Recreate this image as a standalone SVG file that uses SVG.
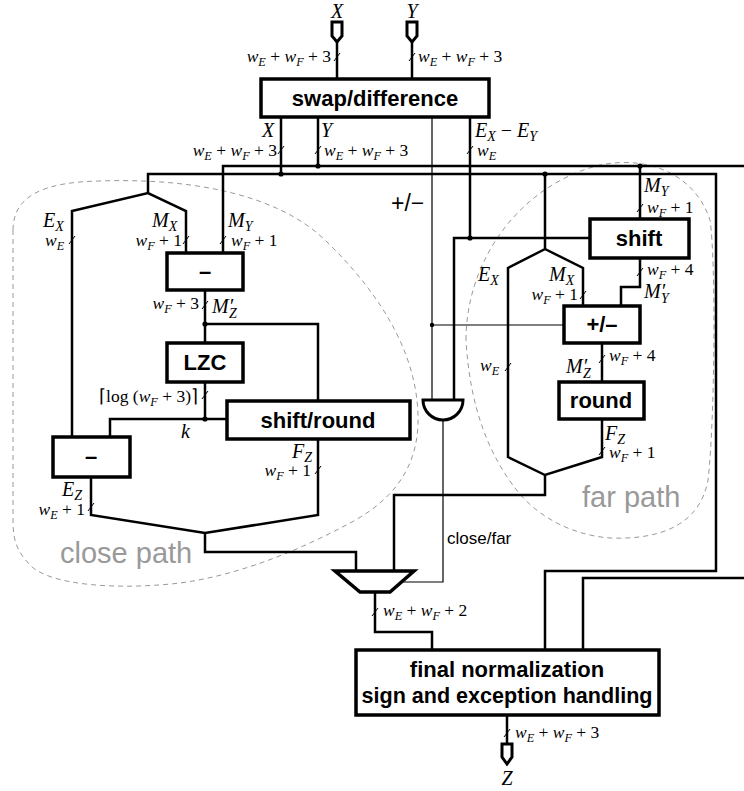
<svg xmlns="http://www.w3.org/2000/svg" width="744" height="791" viewBox="0 0 744 791">
<style>
.w{fill:none;stroke:#000;stroke-width:2.5;stroke-linejoin:miter}
.t{fill:none;stroke:#000;stroke-width:1.2}
.tk{fill:none;stroke:#000;stroke-width:1}
.box{fill:#fff;stroke:#000;stroke-width:3.5}
.dot{fill:#000}
.blob{fill:none;stroke:#999;stroke-width:1;stroke-dasharray:5 4}
.bl{font-family:"Liberation Sans",Arial,sans-serif;font-weight:bold;font-size:22px;text-anchor:middle}
.m{font-family:"Liberation Serif","Times New Roman",serif;font-style:italic;font-size:20px}
.s{font-family:"Liberation Serif","Times New Roman",serif;font-style:italic;font-size:17.5px}
.sub{font-size:0.7em}
.up{font-style:normal}
.e{text-anchor:end}
.c{text-anchor:middle}
.lab{font-family:"Liberation Sans",Arial,sans-serif;font-size:17px}
.pm{font-family:"Liberation Sans",Arial,sans-serif;font-size:23px}
.gray{font-family:"Liberation Sans",Arial,sans-serif;font-size:29px;fill:#999}
</style>

<g id="blobs">
<path class="blob" d="M13,230 C13,195 45,182 100,181 C185,178 275,192 325,240 C385,298 420,360 418,425 C416,470 392,500 352,522 C300,550 240,575 180,583 C120,590 50,586 30,565 C16,550 13,540 13,520 Z"/>
<path class="blob" d="M466,340 C466,260 520,185 600,165 C650,155 695,175 710,220 C716,260 715,420 708,480 C700,525 660,540 610,538 C570,535 535,515 515,488 C490,455 470,410 466,340 Z"/>
<text class="gray" x="60" y="563">close path</text>
<text class="gray" x="582" y="507">far path</text>
</g>

<g id="connectors">
<path class="w" d="M337,42 V79"/>
<path class="w" d="M412,42 V79"/>
<path class="w" d="M281,117 V174"/>
<path class="w" d="M318,117 V166"/>
<path class="w" d="M470,117 V238"/>
<path class="t" d="M432,117 V400"/>
<path class="t" d="M432,325 H564"/>
<path class="w" d="M223,253 V166 H744"/>
<path class="w" d="M148,193 V174 H716 V571 H545 V650"/>
<path class="w" d="M744,578 H583 V650"/>
<path class="w" d="M72,437 V211 L148,193 L186,211 V253"/>
<path class="w" d="M205,290 V343"/>
<path class="w" d="M205,324 H318 V401"/>
<path class="w" d="M205,382 V419"/>
<path class="w" d="M110,437 V419 H227"/>
<path class="w" d="M91,477 V515 L205,533 L318,515 V439"/>
<path class="w" d="M205,533 V552 H356 V572"/>
<path class="w" d="M454,400 V238 H590"/>
<path class="w" d="M545,174 V249 L508,268 V457 L545,475 L602,457 V419"/>
<path class="w" d="M545,249 L583,268 V306"/>
<path class="w" d="M640,166 V219"/>
<path class="w" d="M640,258 V287 H621 V306"/>
<path class="w" d="M602,343 V382"/>
<path class="w" d="M545,475 V495 H394 V572"/>
<path class="t" d="M443,420 V582 H402"/>
<path class="w" d="M375,592 V632 H432 V650"/>
<path class="w" d="M507,715 V744"/>
<circle class="dot" cx="281" cy="174" r="2.6"/>
<circle class="dot" cx="318" cy="166" r="2.6"/>
<circle class="dot" cx="545" cy="174" r="2.6"/>
<circle class="dot" cx="640" cy="166" r="2.6"/>
<circle class="dot" cx="470" cy="238" r="2.6"/>
<circle class="dot" cx="432" cy="325" r="2.2"/>
<circle class="dot" cx="205" cy="324" r="2.6"/>
<circle class="dot" cx="205" cy="419" r="2.6"/>
<path class="tk" d="M334,61 L340,53 M409,61 L415,53 M278,154 L284,146 M315,154 L321,146 M467,154 L473,146 M69,244 L75,236 M183,244 L189,236 M220,244 L226,236 M202,309 L208,301 M202,399 L208,391 M315,474 L321,466 M88,511 L94,503 M637,212 L643,204 M637,276 L643,268 M580,299 L586,291 M505,371 L511,363 M599,363 L605,355 M599,455 L605,447 M372,616 L378,608 M504,737 L510,729"/>
</g>

<g id="in-X"><path d="M332,22 H342 V36 L337,42 L332,36 Z" fill="#fff" stroke="#000" stroke-width="3"/><text class="m c" x="337" y="18">X</text></g>
<g id="in-Y"><path d="M407,22 H417 V36 L412,42 L407,36 Z" fill="#fff" stroke="#000" stroke-width="3"/><text class="m c" x="412" y="18">Y</text></g>
<g id="out-Z"><path d="M502,744 H512 V757 L507,764 L502,757 Z" fill="#fff" stroke="#000" stroke-width="3"/><text class="m c" x="507" y="785">Z</text></g>

<g id="swap"><rect class="box" x="261" y="79" width="228" height="38"/><text class="bl" x="375" y="106">swap/difference</text></g>
<g id="sub-mant"><rect class="box" x="167" y="253" width="76" height="37"/><text class="bl" x="205" y="279">–</text></g>
<g id="lzc"><rect class="box" x="167" y="343" width="76" height="39"/><text class="bl" x="205" y="370">LZC</text></g>
<g id="shiftround"><rect class="box" x="227" y="401" width="183" height="38"/><text class="bl" x="318" y="428">shift/round</text></g>
<g id="sub-exp"><rect class="box" x="53" y="437" width="77" height="40"/><text class="bl" x="91" y="464">–</text></g>
<g id="shift"><rect class="box" x="590" y="219" width="99" height="39"/><text class="bl" x="639" y="246">shift</text></g>
<g id="addsub"><rect class="box" x="564" y="306" width="76" height="37"/><text class="bl" x="602" y="332">+/–</text></g>
<g id="round"><rect class="box" x="559" y="382" width="85" height="37"/><text class="bl" x="601" y="408">round</text></g>
<g id="final"><rect class="box" x="356" y="650" width="303" height="65"/><text class="bl" x="507" y="677">final normalization</text><text class="bl" x="507" y="703" textLength="291" lengthAdjust="spacingAndGlyphs">sign and exception handling</text></g>
<g id="and"><path d="M423,400 H463 A20,20 0 0 1 423,400 Z" fill="#fff" stroke="#000" stroke-width="3"/></g>
<g id="mux"><path d="M335,571 H414 L390,592 H360 Z" fill="#fff" stroke="#000" stroke-width="3.5" stroke-linejoin="miter"/></g>

<g id="labels">
<text class="s e" x="331" y="62">w<tspan class="sub" dy="3.5">E</tspan><tspan class="up" dy="-3.5"> + </tspan>w<tspan class="sub" dy="3.5">F</tspan><tspan class="up" dy="-3.5"> + 3</tspan></text>
<text class="s" x="418" y="62">w<tspan class="sub" dy="3.5">E</tspan><tspan class="up" dy="-3.5"> + </tspan>w<tspan class="sub" dy="3.5">F</tspan><tspan class="up" dy="-3.5"> + 3</tspan></text>
<text class="m" x="262" y="137">X</text>
<text class="m" x="321" y="137">Y</text>
<text class="m" x="475" y="137">E<tspan class="sub" dy="4">X</tspan><tspan class="up" dy="-4"> − </tspan>E<tspan class="sub" dy="4">Y</tspan></text>
<text class="s e" x="277" y="156">w<tspan class="sub" dy="3.5">E</tspan><tspan class="up" dy="-3.5"> + </tspan>w<tspan class="sub" dy="3.5">F</tspan><tspan class="up" dy="-3.5"> + 3</tspan></text>
<text class="s" x="324" y="156">w<tspan class="sub" dy="3.5">E</tspan><tspan class="up" dy="-3.5"> + </tspan>w<tspan class="sub" dy="3.5">F</tspan><tspan class="up" dy="-3.5"> + 3</tspan></text>
<text class="s" x="477" y="156">w<tspan class="sub" dy="3.5">E</tspan></text>
<text class="pm" x="391" y="211">+/−</text>

<text class="m" x="43" y="227">E<tspan class="sub" dy="4">X</tspan></text>
<text class="s" x="45" y="246">w<tspan class="sub" dy="3.5">E</tspan></text>
<text class="m" x="152" y="227">M<tspan class="sub" dy="4">X</tspan></text>
<text class="s e" x="182" y="246">w<tspan class="sub" dy="3.5">F</tspan><tspan class="up" dy="-3.5"> + 1</tspan></text>
<text class="m" x="228" y="227">M<tspan class="sub" dy="4">Y</tspan></text>
<text class="s" x="231" y="246">w<tspan class="sub" dy="3.5">F</tspan><tspan class="up" dy="-3.5"> + 1</tspan></text>
<text class="s e" x="199" y="309">w<tspan class="sub" dy="3.5">F</tspan><tspan class="up" dy="-3.5"> + 3</tspan></text>
<text class="m" x="212" y="313">M′<tspan class="sub" dx="-4" dy="5">Z</tspan></text>
<text class="s e" x="198" y="402"><tspan class="up">⌈log (</tspan>w<tspan class="sub" dy="3.5">F</tspan><tspan class="up" dy="-3.5"> + 3)⌉</tspan></text>
<text class="m" x="181" y="438">k</text>
<text class="m" x="292" y="458">F<tspan class="sub" dy="4">Z</tspan></text>
<text class="s e" x="311" y="476">w<tspan class="sub" dy="3.5">F</tspan><tspan class="up" dy="-3.5"> + 1</tspan></text>
<text class="m" x="62" y="496">E<tspan class="sub" dy="4">Z</tspan></text>
<text class="s e" x="85" y="515">w<tspan class="sub" dy="3.5">E</tspan><tspan class="up" dy="-3.5"> + 1</tspan></text>

<text class="m" x="644" y="192">M<tspan class="sub" dy="4">Y</tspan></text>
<text class="s" x="647" y="213">w<tspan class="sub" dy="3.5">F</tspan><tspan class="up" dy="-3.5"> + 1</tspan></text>
<text class="m" x="478" y="281">E<tspan class="sub" dy="4">X</tspan></text>
<text class="m" x="549" y="281">M<tspan class="sub" dy="4">X</tspan></text>
<text class="s e" x="578" y="300">w<tspan class="sub" dy="3.5">F</tspan><tspan class="up" dy="-3.5"> + 1</tspan></text>
<text class="s" x="647" y="275">w<tspan class="sub" dy="3.5">F</tspan><tspan class="up" dy="-3.5"> + 4</tspan></text>
<text class="m" x="644" y="298">M′<tspan class="sub" dx="-4" dy="5">Y</tspan></text>
<text class="s" x="480" y="371">w<tspan class="sub" dy="3.5">E</tspan></text>
<text class="m" x="566" y="373">M′<tspan class="sub" dx="-4" dy="5">Z</tspan></text>
<text class="s" x="609" y="361">w<tspan class="sub" dy="3.5">F</tspan><tspan class="up" dy="-3.5"> + 4</tspan></text>
<text class="m" x="605" y="440">F<tspan class="sub" dy="4">Z</tspan></text>
<text class="s" x="609" y="458">w<tspan class="sub" dy="3.5">F</tspan><tspan class="up" dy="-3.5"> + 1</tspan></text>

<text class="lab" x="447" y="544">close/far</text>
<text class="s" x="383" y="616">w<tspan class="sub" dy="3.5">E</tspan><tspan class="up" dy="-3.5"> + </tspan>w<tspan class="sub" dy="3.5">F</tspan><tspan class="up" dy="-3.5"> + 2</tspan></text>
<text class="s" x="515" y="738">w<tspan class="sub" dy="3.5">E</tspan><tspan class="up" dy="-3.5"> + </tspan>w<tspan class="sub" dy="3.5">F</tspan><tspan class="up" dy="-3.5"> + 3</tspan></text>
</g>
</svg>
